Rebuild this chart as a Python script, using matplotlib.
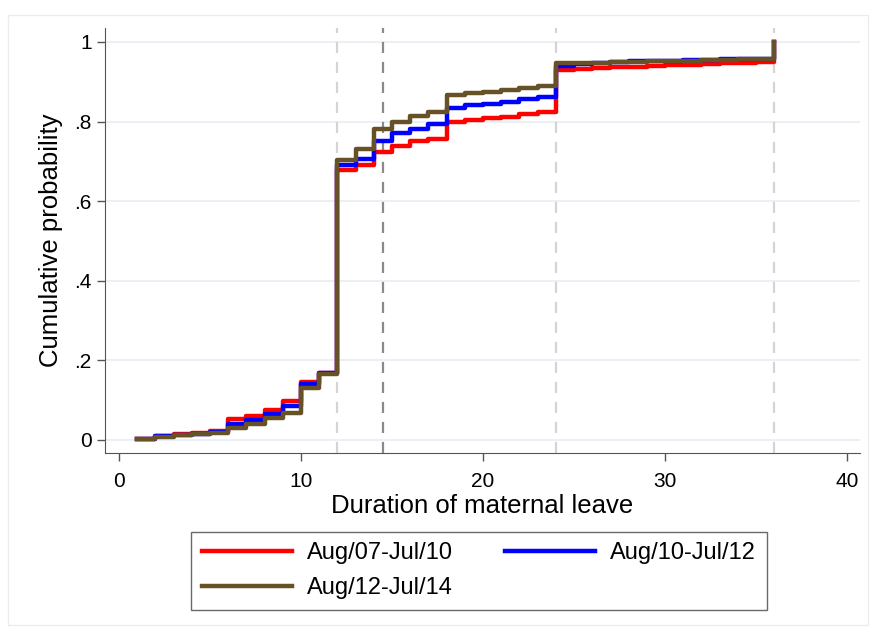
# Distribución acumulada de la duración del permiso de maternidad
import numpy as np
import matplotlib.pyplot as plt
from matplotlib.patches import Rectangle

plt.rcParams['font.family'] = ['Liberation Sans', 'DejaVu Sans']

# Meses de permiso
meses = list(range(1, 37))

# Probabilidad acumulada por periodo
p_07_10 = [0.003, 0.010, 0.014, 0.018, 0.022, 0.052, 0.060, 0.075, 0.098, 0.146,
           0.168, 0.677, 0.690, 0.724, 0.739, 0.750, 0.756, 0.798, 0.804, 0.808,
           0.812, 0.818, 0.824, 0.930, 0.932, 0.934, 0.936, 0.938, 0.940, 0.941,
           0.943, 0.945, 0.947, 0.948, 0.950, 1.0]
p_10_12 = [0.002, 0.009, 0.013, 0.016, 0.020, 0.040, 0.050, 0.066, 0.085, 0.140,
           0.167, 0.690, 0.705, 0.750, 0.772, 0.780, 0.794, 0.835, 0.841, 0.845,
           0.850, 0.856, 0.862, 0.940, 0.944, 0.948, 0.950, 0.951, 0.952, 0.953,
           0.954, 0.955, 0.956, 0.957, 0.958, 1.0]
p_12_14 = [0.001, 0.008, 0.011, 0.014, 0.017, 0.030, 0.040, 0.055, 0.068, 0.131,
           0.165, 0.703, 0.730, 0.780, 0.800, 0.814, 0.823, 0.866, 0.871, 0.875,
           0.880, 0.884, 0.889, 0.946, 0.947, 0.948, 0.949, 0.950, 0.951, 0.952,
           0.953, 0.954, 0.955, 0.956, 0.957, 1.0]

etiquetas = ['Aug/07-Jul/10', 'Aug/10-Jul/12', 'Aug/12-Jul/14']
colores = ['#ff0000', '#0000ff', '#675127']

# lineas de referencia
refs_claras = [12, 24, 36]
ref_oscura = 14.5

fig = plt.figure(figsize=(8.72, 6.34), dpi=100)
fig.patches.append(Rectangle((8/872, 9/634), 860/872, 610/634, transform=fig.transFigure,
                             fill=False, edgecolor='#ececec', linewidth=1))
ax = fig.add_axes([105/872, 1 - 453/634, 755/872, 425/634])

for y in [0, 0.2, 0.4, 0.6, 0.8, 1.0]:
    ax.axhline(y, color='#e6eef3', linewidth=1.2, zorder=0)
for x in refs_claras:
    ax.axvline(x, color='#d4d4d4', linewidth=1.6, linestyle=(0, (5, 4)), zorder=1)
ax.axvline(ref_oscura, color='#8a8a8a', linewidth=1.6, linestyle=(0, (5, 4)), zorder=1)

lineas = []
for datos, lab, c in zip([p_07_10, p_10_12, p_12_14], etiquetas, colores):
    l, = ax.step(meses, datos, where='post', color=c, linewidth=3.2, label=lab, zorder=3)
    lineas.append(l)

ax.set_xlim(-0.77, 40.71)
ax.set_ylim(-0.033, 1.035)
ax.set_xticks([0, 10, 20, 30, 40])
ax.set_yticks([0, 0.2, 0.4, 0.6, 0.8, 1.0])
ax.set_yticklabels(['0', '.2', '.4', '.6', '.8', '1'])
ax.tick_params(direction='out', length=6, width=1, color='#555555', labelsize=15)
ax.tick_params(axis='x', pad=8)
ax.spines['top'].set_visible(False)
ax.spines['right'].set_visible(False)
ax.spines['left'].set_color('#555555')
ax.spines['bottom'].set_color('#555555')

ax.set_xlabel('Duration of maternal leave', fontsize=18.5, labelpad=2)
ax.set_ylabel('Cumulative probability', fontsize=18.5, labelpad=8)

# orden para que quede rojo/azul arriba y marron abajo
orden = [lineas[0], lineas[2], lineas[1]]
fig.legend(orden, [l.get_label() for l in orden], loc='lower center',
           bbox_to_anchor=(479/872, 24/634), ncol=2, fontsize=17, borderaxespad=0,
           frameon=True, fancybox=False, edgecolor='#444444', handlelength=3.8,
           columnspacing=2.2, borderpad=0.45, labelspacing=0.55, handletextpad=0.65)

plt.savefig('out.png', dpi=100)
